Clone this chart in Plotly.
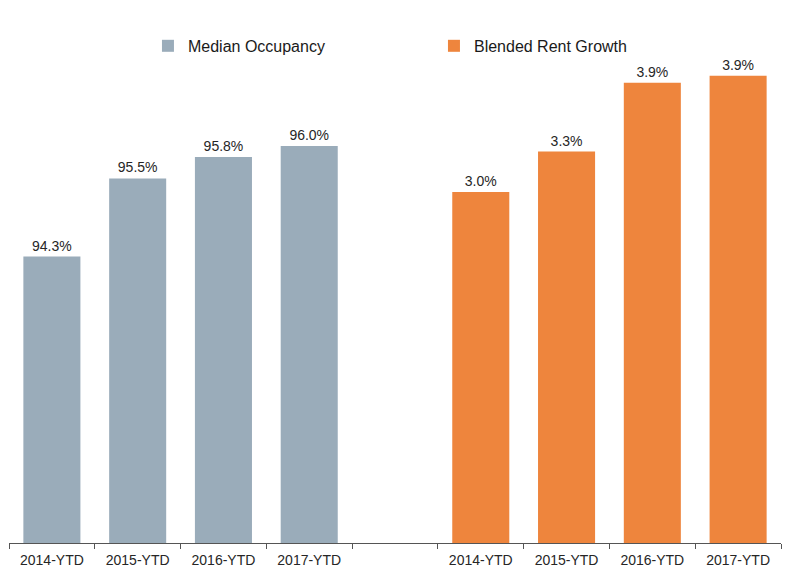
import plotly.graph_objects as go

occ_labels = ["2014-YTD", "2015-YTD", "2016-YTD", "2017-YTD"]
occ_values = [94.3, 95.5, 95.83, 96.0]
rent_labels = ["2014-YTD\u200b", "2015-YTD\u200b", "2016-YTD\u200b", "2017-YTD\u200b"]
rent_values = [2.96, 3.30, 3.88, 3.94]
gap = [" "]
categories = occ_labels + gap + rent_labels

fnt = "Liberation Sans, Arial, sans-serif"

fig = go.Figure()
fig.add_trace(go.Bar(
    x=occ_labels, y=occ_values, name="Median Occupancy",
    marker=dict(color="#9AACBA", line=dict(width=0)),
    text=[f"{v:.1f}%" for v in occ_values], textposition="outside",
    textfont=dict(size=14, color="#262626", family=fnt),
    cliponaxis=False, yaxis="y", offsetgroup="a",
))
fig.add_trace(go.Bar(
    x=rent_labels, y=rent_values, name="Blended Rent Growth",
    marker=dict(color="#EE853D", line=dict(width=0)),
    text=[f"{v:.1f}%" for v in rent_values], textposition="outside",
    textfont=dict(size=14, color="#262626", family=fnt),
    cliponaxis=False, yaxis="y2", offsetgroup="a",
))

fig.update_layout(
    width=800, height=583,
    margin=dict(l=1, r=27, t=22, b=48),
    paper_bgcolor="white", plot_bgcolor="white",
    bargap=0.335, barmode="overlay",
    font=dict(family=fnt, size=14, color="#262626"),
    showlegend=True,
    legend=dict(orientation="h", x=0.18, xanchor="left", y=0.969, yanchor="middle",
                entrywidth=241, entrywidthmode="pixels",
                font=dict(size=16, family=fnt, color="#1a1a1a"),
                bgcolor="rgba(0,0,0,0)"),
    xaxis=dict(type="category", categoryorder="array", categoryarray=categories,
               range=[-0.5, 8.5], showline=True, linecolor="#555555", linewidth=1,
               ticks="outside", tickson="boundaries", ticklen=5, tickcolor="#555555",
               ticklabelstandoff=4,
               tickfont=dict(size=14, family=fnt, color="#262626"), showgrid=False),
    yaxis=dict(range=[89.9, 97.78], visible=False, showgrid=False, zeroline=False),
    yaxis2=dict(range=[0, 4.325], visible=False, overlaying="y", side="right",
                showgrid=False, zeroline=False),
)
fig.write_html("out.html")
